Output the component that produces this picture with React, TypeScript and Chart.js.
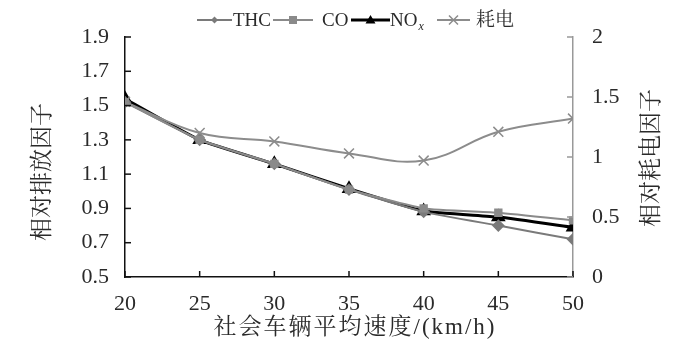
import React, { useEffect, useRef } from "react";
import { Chart, registerables } from "chart.js";
Chart.register(...registerables);

const speeds = [20, 25, 30, 35, 40, 45, 50];
const thcValues = [1.52, 1.3, 1.16, 1.01, 0.88, 0.8, 0.72];
const coValues = [1.52, 1.3, 1.16, 1.01, 0.9, 0.875, 0.83];
const noxValues = [1.54, 1.3, 1.16, 1.015, 0.885, 0.85, 0.79];
const elecValues = [1.46, 1.2, 1.13, 1.03, 0.97, 1.21, 1.32];
const leftTicks = [0.5, 0.7, 0.9, 1.1, 1.3, 1.5, 1.7, 1.9];
const rightTicks = [0, 0.5, 1, 1.5, 2];
const xTitle = "社会车辆平均速度/(km/h)";
const yTitle = "相对排放因子";
const y2Title = "相对耗电因子";
const legendNames = ["THC", "CO", "NO", "耗电"];

const FONT = "'Liberation Serif', 'Noto Serif CJK SC', 'Noto Sans CJK SC', serif";
const TXT = "#2a2a2a";

function marker(ctx: CanvasRenderingContext2D, type: string, x: number, y: number, r: number, color: string) {
  ctx.save();
  ctx.fillStyle = color;
  ctx.strokeStyle = color;
  ctx.beginPath();
  if (type === "diamond") {
    ctx.moveTo(x, y - r); ctx.lineTo(x + r, y); ctx.lineTo(x, y + r); ctx.lineTo(x - r, y); ctx.closePath(); ctx.fill();
  } else if (type === "square") {
    ctx.rect(x - r, y - r, 2 * r, 2 * r); ctx.fill();
  } else if (type === "triangle") {
    ctx.moveTo(x, y - r); ctx.lineTo(x + r, y + r * 0.7); ctx.lineTo(x - r, y + r * 0.7); ctx.closePath(); ctx.fill();
  } else {
    ctx.lineWidth = 1.5;
    ctx.moveTo(x - r, y - r); ctx.lineTo(x + r, y + r); ctx.moveTo(x + r, y - r); ctx.lineTo(x - r, y + r); ctx.stroke();
  }
  ctx.restore();
}

const decorPlugin = {
  id: "decor",
  afterDraw(chart: any) {
    const ctx: CanvasRenderingContext2D = chart.ctx;
    const { x, y, y2 } = chart.scales;
    const area = chart.chartArea;
    ctx.save();
    // inside tick marks
    ctx.lineWidth = 1.5;
    ctx.strokeStyle = "#111";
    leftTicks.forEach((v) => {
      const py = y.getPixelForValue(v);
      ctx.beginPath(); ctx.moveTo(area.left, py); ctx.lineTo(area.left + 6, py); ctx.stroke();
    });
    speeds.forEach((v) => {
      const px = x.getPixelForValue(v);
      ctx.beginPath(); ctx.moveTo(px, area.bottom); ctx.lineTo(px, area.bottom - 6); ctx.stroke();
    });
    ctx.strokeStyle = "#999";
    rightTicks.forEach((v) => {
      const py = y2.getPixelForValue(v);
      ctx.beginPath(); ctx.moveTo(area.right, py); ctx.lineTo(area.right - 6, py); ctx.stroke();
    });
    // titles
    ctx.fillStyle = TXT;
    ctx.font = `23px ${FONT}`;
    ctx.textAlign = "center";
    ctx.textBaseline = "middle";
    (ctx as any).letterSpacing = "2px";
    ctx.fillText(xTitle, (area.left + area.right) / 2 + 6, 328);
    (ctx as any).letterSpacing = "0px";
    ctx.save();
    ctx.translate(43, 172);
    ctx.rotate(-Math.PI / 2);
    ctx.fillText(yTitle, 0, 0);
    ctx.restore();
    ctx.save();
    ctx.translate(652, 158);
    ctx.rotate(-Math.PI / 2);
    ctx.fillText(y2Title, 0, 0);
    ctx.restore();
    // legend
    const ly = 20;
    const items = [
      { x0: 197, x1: 232, tx: 233, color: "#7a7a7a", m: "diamond", r: 3.5, w: 2 },
      { x0: 273, x1: 313, tx: 322, color: "#8a8a8a", m: "square", r: 4, w: 2 },
      { x0: 351, x1: 390, tx: 390, color: "#000", m: "triangle", r: 5, w: 3 },
      { x0: 437, x1: 470, tx: 476, color: "#8c8c8c", m: "cross", r: 4.5, w: 2 },
    ];
    ctx.textAlign = "left";
    items.forEach((it, i) => {
      ctx.strokeStyle = it.color;
      ctx.lineWidth = it.w;
      ctx.beginPath(); ctx.moveTo(it.x0, ly); ctx.lineTo(it.x1, ly); ctx.stroke();
      marker(ctx, it.m, (it.x0 + it.x1) / 2, ly, it.r, it.color);
      ctx.fillStyle = TXT;
      ctx.font = `19px ${FONT}`;
      ctx.fillText(legendNames[i], it.tx, ly + 1);
      if (i === 2) {
        const w = ctx.measureText(legendNames[i]).width;
        ctx.font = `italic 12px ${FONT}`;
        ctx.fillText("x", it.tx + w + 1, ly + 7);
      }
    });
    ctx.restore();
  },
};

export default function App() {
  const ref = useRef<HTMLCanvasElement>(null);
  useEffect(() => {
    if (!ref.current) return;
    const pts = (arr: number[]) => speeds.map((s, i) => ({ x: s, y: arr[i] }));
    const chart = new Chart(ref.current, {
      type: "line",
      data: {
        datasets: [
          { label: "耗电", data: pts(elecValues), yAxisID: "y2", borderColor: "#8c8c8c", borderWidth: 2, tension: 0.4, pointStyle: "crossRot", pointRadius: 7, pointBorderWidth: 1.5, pointBorderColor: "#8c8c8c", pointBackgroundColor: "#8c8c8c" },
          { label: "CO", data: pts(coValues), yAxisID: "y", borderColor: "#8a8a8a", borderWidth: 2, tension: 0.15, pointStyle: "rect", pointRadius: 4.5, pointBackgroundColor: "#8a8a8a", pointBorderColor: "#8a8a8a" },
          { label: "THC", data: pts(thcValues), yAxisID: "y", borderColor: "#7a7a7a", borderWidth: 2, tension: 0.15, pointStyle: "rectRot", pointRadius: 5, pointBackgroundColor: "#7a7a7a", pointBorderColor: "#7a7a7a" },
          { label: "NOx", data: pts(noxValues), yAxisID: "y", borderColor: "#000", borderWidth: 3, tension: 0.15, pointStyle: "triangle", pointRadius: 5.5, pointBackgroundColor: "#000", pointBorderColor: "#000" },
        ],
      },
      options: {
        animation: false,
        responsive: false,
        layout: { padding: { top: 37, left: 0, right: 0, bottom: 0 } },
        plugins: { legend: { display: false }, tooltip: { enabled: false } },
        scales: {
          x: {
            type: "linear", min: 20, max: 50,
            afterBuildTicks: (s: any) => { s.ticks = speeds.map((v) => ({ value: v })); },
            afterFit: (s: any) => { s.height = 82; },
            grid: { display: true, drawOnChartArea: false, drawTicks: false },
            border: { display: true, color: "#111", width: 1.5 },
            ticks: { padding: 14, color: TXT, font: { family: FONT, size: 22 }, maxRotation: 0 },
          },
          y: {
            type: "linear", position: "left", min: 0.5, max: 1.9,
            afterBuildTicks: (s: any) => { s.ticks = leftTicks.map((v) => ({ value: v })); },
            afterFit: (s: any) => { s.width = 125; },
            grid: { display: true, drawOnChartArea: false, drawTicks: false },
            border: { display: true, color: "#111", width: 1.5 },
            ticks: { padding: 16, color: TXT, font: { family: FONT, size: 22 }, callback: (v: any) => Number(v).toFixed(1) },
          },
          y2: {
            type: "linear", position: "right", min: 0, max: 2,
            afterBuildTicks: (s: any) => { s.ticks = rightTicks.map((v) => ({ value: v })); },
            afterFit: (s: any) => { s.width = 127; },
            grid: { display: true, drawOnChartArea: false, drawTicks: false },
            border: { display: true, color: "#999", width: 1.5 },
            ticks: { padding: 19, color: TXT, font: { family: FONT, size: 22 }, callback: (v: any) => String(v) },
          },
        },
      } as any,
      plugins: [decorPlugin],
    });
    return () => chart.destroy();
  }, []);
  return (
    <div style={{ position: "fixed", left: 0, top: 0, width: 700, height: 359, background: "#fff" }}>
      <canvas ref={ref} width={700} height={359} style={{ width: 700, height: 359, display: "block" }} />
    </div>
  );
}
